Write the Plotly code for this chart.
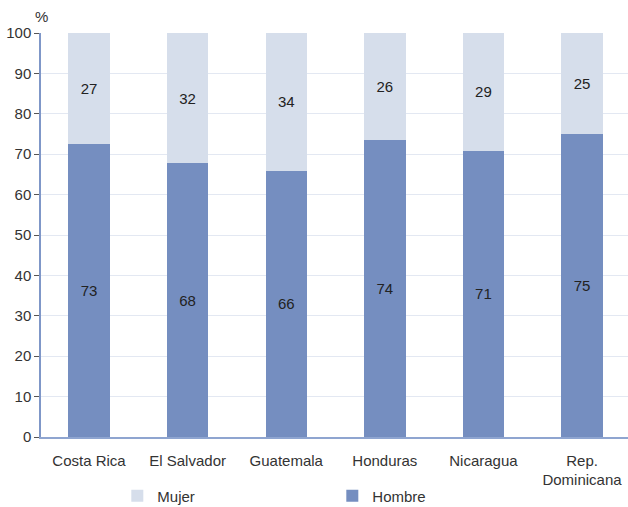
import plotly.graph_objects as go

paises = ["Costa Rica", "El Salvador", "Guatemala", "Honduras", "Nicaragua", "Rep.<br>Dominicana"]
hombre = [72.6, 67.7, 65.9, 73.6, 70.9, 75.0]
mujer = [27.4, 32.3, 34.1, 26.4, 29.1, 25.0]
y_ticks = [0, 10, 20, 30, 40, 50, 60, 70, 80, 90, 100]

fuente = "Liberation Sans, Arial, sans-serif"

fig = go.Figure()

fig.add_trace(go.Bar(
    x=paises,
    y=hombre,
    name="Hombre",
    marker={"color": "#758EC0", "line": {"width": 0}},
    texttemplate="%{y:.0f}",
    textposition="inside",
    insidetextanchor="middle",
    textfont={"color": "#222222", "size": 15, "family": fuente},
    legendrank=2,
))

fig.add_trace(go.Bar(
    x=paises,
    y=mujer,
    name="Mujer",
    marker={"color": "#D6DEEB", "line": {"width": 0}},
    texttemplate="%{y:.0f}",
    textposition="inside",
    insidetextanchor="middle",
    textfont={"color": "#222222", "size": 15, "family": fuente},
    legendrank=1,
))

# figura algo más alta que la ventana para que la leyenda no empuje el margen
fig.update_layout(
    barmode="stack",
    bargap=0.58,
    width=628,
    height=520,
    plot_bgcolor="white",
    paper_bgcolor="white",
    font={"family": fuente, "size": 15, "color": "#333333"},
    margin={"t": 33, "b": 83, "l": 41, "r": 0},
    showlegend=True,
    legend={
        "orientation": "h",
        "x": 0.13,
        "xanchor": "left",
        "y": -0.146,
        "yanchor": "middle",
        "bgcolor": "rgba(0,0,0,0)",
        "entrywidth": 170,
        "traceorder": "normal",
        "font": {"size": 15, "color": "#333333"},
    },
    uniformtext={"mode": "show", "minsize": 15},
    xaxis=dict(
        automargin=False,
        range=[-0.487, 5.466],
        showline=True,
        linecolor="#8FA5D0",
        linewidth=1.5,
        ticks="",
        ticklabelstandoff=9,
        showgrid=False,
    ),
    yaxis=dict(
        automargin=False,
        range=[0, 100],
        tickvals=y_ticks,
        showline=True,
        linecolor="#7F97C8",
        linewidth=1.5,
        ticks="outside",
        ticklen=5,
        tickcolor="#555555",
        gridcolor="#E3E8F2",
        gridwidth=1,
        zeroline=False,
    ),
    annotations=[dict(
        text="%",
        xref="paper", yref="paper",
        x=0, y=1,
        xanchor="center", yanchor="bottom",
        yshift=6,
        showarrow=False,
        font={"size": 15, "color": "#333333"},
    )],
)

fig.write_html(
    "out.html",
    config={"displayModeBar": False},
    post_script=(
        "document.body.style.margin='0';"
        "document.body.style.overflow='hidden';"
        "document.documentElement.style.overflow='hidden';"
    ),
)
